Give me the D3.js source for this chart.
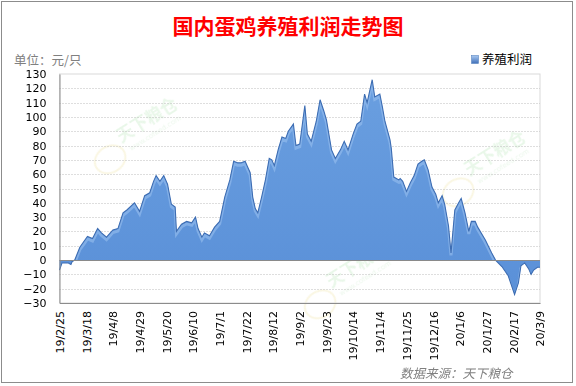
<!DOCTYPE html>
<html><head><meta charset="utf-8">
<script src="https://cdn.jsdelivr.net/npm/d3@7"></script>
<style>
html,body{margin:0;padding:0;background:#fff;}
svg{display:block;}
</style></head>
<body>
<svg id="chart" width="576" height="386"></svg>
<script>
// ---- data ----
const title = "国内蛋鸡养殖利润走势图";
const unitLabel = "单位：元/只";
const seriesName = "养殖利润";
const sourceLabel = "数据来源：天下粮仓";
const dates = [
 "2019-02-25","2019-02-27","2019-03-04","2019-03-06","2019-03-07","2019-03-09","2019-03-13","2019-03-17","2019-03-19","2019-03-23",
 "2019-03-27","2019-03-30","2019-04-03","2019-04-08","2019-04-12","2019-04-16","2019-04-19","2019-04-25","2019-04-29","2019-05-03",
 "2019-05-07","2019-05-10","2019-05-12","2019-05-15","2019-05-18","2019-05-21","2019-05-24","2019-05-27","2019-05-28","2019-06-01",
 "2019-06-05","2019-06-09","2019-06-12","2019-06-14","2019-06-17","2019-06-19","2019-06-23","2019-06-27","2019-07-01","2019-07-05",
 "2019-07-09","2019-07-12","2019-07-15","2019-07-18","2019-07-21","2019-07-25","2019-07-27","2019-07-29","2019-07-31","2019-08-03",
 "2019-08-06","2019-08-09","2019-08-11","2019-08-13","2019-08-16","2019-08-19","2019-08-22","2019-08-24","2019-08-28","2019-08-30",
 "2019-09-02","2019-09-06","2019-09-08","2019-09-11","2019-09-15","2019-09-18","2019-09-21","2019-09-23","2019-09-27","2019-09-30",
 "2019-10-04","2019-10-07","2019-10-10","2019-10-14","2019-10-17","2019-10-20","2019-10-23","2019-10-25","2019-10-27","2019-10-29",
 "2019-10-31","2019-11-04","2019-11-06","2019-11-08","2019-11-12","2019-11-13","2019-11-15","2019-11-19","2019-11-20","2019-11-22",
 "2019-11-25","2019-11-28","2019-12-01","2019-12-04","2019-12-07","2019-12-09","2019-12-12","2019-12-15","2019-12-18","2019-12-20",
 "2019-12-23","2019-12-25","2019-12-28","2019-12-30","2020-01-02","2020-01-05","2020-01-07","2020-01-10","2020-01-13","2020-01-15",
 "2020-01-18","2020-01-20","2020-01-26","2020-01-31","2020-02-03","2020-02-08","2020-02-13","2020-02-18","2020-02-21","2020-02-23",
 "2020-02-26","2020-02-29","2020-03-02","2020-03-04","2020-03-07","2020-03-09"
];
const profit = [
 -7,-2,-2,-3,-1,0,9,14,16.5,15,
 22,19,16,21,22,33,35,40,34,45,
 47,55,59,55,59,53,39,37,20,25,
 27,26,30,22,16,19,17,23,27,44,
 56,69,68,68,69,61,44,36,33,44,
 56,71,70,66,77,86,85,90,95,80,
 81,108,88,83,97,112,104,98,77,71,
 77,83,77,88,95,97,116,110,118,126,
 114,116,107,97,84,78,58,56,57,55,
 48,54,59,67,69,70,63,51,46,40,
 45,39,24,5,35,40,43,33,20,27,
 27,23,14,5,0,-4.5,-11,-24,-16,-4,
 -2,-6,-10,-7,-5,-5
];
const yTicks = [130,120,110,100,90,80,70,60,50,40,30,20,10,0,-10,-20,-30];
const xTickLabels = ["19/2/25","19/3/18","19/4/8","19/4/29","19/5/20","19/6/10","19/7/1","19/7/22","19/8/12","19/9/2","19/9/23","19/10/14","19/11/4","19/11/25","19/12/16","20/1/6","20/1/27","20/2/17","20/3/9"];

// ---- build ----
const parse = d3.timeParse("%Y-%m-%d");
const data = dates.map((d,i)=>({date:parse(d), value:profit[i]}));
const tickDates = xTickLabels.map(s=>{const p=s.split("/");return new Date(2000+ +p[0], +p[1]-1, +p[2]);});

const svg = d3.select("#chart");
const L=59.5, R=540, T=74, B=303;
const x = d3.scaleTime().domain([parse("2019-02-25"), parse("2020-03-09")]).range([L,R]);
const y = d3.scaleLinear().domain([-30,130]).range([B,T]);

// outer frame
svg.append("rect").attr("x",1.5).attr("y",1.5).attr("width",571).attr("height",381)
  .attr("fill","#fff").attr("stroke","#8c8c8c").attr("stroke-width",1);

const defs = svg.append("defs");
const grad = defs.append("linearGradient").attr("id","lg").attr("x1",0).attr("y1",0).attr("x2",0).attr("y2",1);
grad.append("stop").attr("offset","0%").attr("stop-color","#6a9fe0");
grad.append("stop").attr("offset","100%").attr("stop-color","#5a90d8");
const lg2 = defs.append("linearGradient").attr("id","lg2").attr("x1",0).attr("y1",0).attr("x2",0).attr("y2",1);
lg2.append("stop").attr("offset","0%").attr("stop-color","#a9c9f2");
lg2.append("stop").attr("offset","100%").attr("stop-color","#3f6fb8");
defs.append("filter").attr("id","blur").append("feGaussianBlur").attr("stdDeviation",1.2);
defs.append("clipPath").attr("id","clipArea").append("path")
  .attr("d", d3.area().x(d=>x(d.date)).y0(y(0)).y1(d=>y(d.value))(data));

// title
svg.append("text").attr("x",288).attr("y",34).attr("text-anchor","middle")
  .attr("font-family","'Noto Sans CJK SC'").attr("font-size",21).attr("font-weight","bold")
  .attr("fill","#ff0000").text(title);

// unit
svg.append("text").attr("x",14).attr("y",65)
  .attr("font-family","'Noto Sans CJK SC'").attr("font-size",12.5)
  .attr("fill","#808080").text(unitLabel);

// legend
svg.append("rect").attr("x",471.5).attr("y",55.5).attr("width",7).attr("height",8)
  .attr("fill","url(#lg2)").attr("stroke","#5a86c0").attr("stroke-width",0.6);
svg.append("text").attr("x",482).attr("y",64)
  .attr("font-family","'Noto Sans CJK SC'").attr("font-size",12.5)
  .attr("fill","#000").text(seriesName);

// watermarks
const wm = svg.append("g").attr("opacity",0.45);
[[150,125],[360,270],[498,158]].forEach(([cx,cy])=>{
  const g = wm.append("g").attr("transform",`translate(${cx},${cy}) rotate(-32)`);
  g.append("text").attr("text-anchor","middle").attr("font-family","'Noto Sans CJK SC'")
    .attr("font-size",17).attr("font-weight","bold").attr("fill","#cfeecf").text("天下粮仓");
  g.append("text").attr("y",12).attr("text-anchor","middle").attr("font-family","'DejaVu Sans'")
    .attr("font-size",7).attr("fill","#d6efd6").text("www.cofeed.com");
  g.append("ellipse").attr("cx",-52).attr("cy",8).attr("rx",16).attr("ry",13)
    .attr("fill","none").attr("stroke","#f4ecc0").attr("stroke-width",2);
});

// plot border
svg.append("rect").attr("x",L).attr("y",T).attr("width",R-L).attr("height",B-T)
  .attr("fill","none").attr("stroke","#d9d9d9").attr("stroke-width",1);

// gridlines
svg.append("g").selectAll("line").data(yTicks.filter(v=>v!==-30 && v!==130)).join("line")
  .attr("x1",L).attr("x2",R).attr("y1",d=>Math.round(y(d))+0.5).attr("y2",d=>Math.round(y(d))+0.5)
  .attr("stroke","#bdbdbd").attr("stroke-width",1).attr("stroke-dasharray","1,2");

// shadow under zero
svg.append("line").attr("x1",L).attr("x2",R).attr("y1",y(0)+2).attr("y2",y(0)+2)
  .attr("stroke","#909090").attr("stroke-width",2).attr("filter","url(#blur)").attr("opacity",0.7);

// area
const area = d3.area().x(d=>x(d.date)).y0(y(0)).y1(d=>y(d.value));
svg.append("path").datum(data).attr("d",area).attr("fill","url(#lg)");
// bevel highlight
const line = d3.line().x(d=>x(d.date)).y(d=>y(d.value));
svg.append("g").attr("clip-path","url(#clipArea)").append("path").datum(data)
  .attr("d",line).attr("fill","none").attr("stroke","#9cc2f0").attr("stroke-width",3)
  .attr("transform","translate(0,2.5)").attr("opacity",0.55);
svg.append("path").datum(data).attr("d",line).attr("fill","none")
  .attr("stroke","#3d6db3").attr("stroke-width",1.1);
// zero line
svg.append("line").attr("x1",L).attr("x2",R).attr("y1",Math.round(y(0))+0.5).attr("y2",Math.round(y(0))+0.5)
  .attr("stroke","#8a8a8a").attr("stroke-width",1);

// axes
const yAxis = d3.axisLeft(y).tickValues(yTicks).tickSize(0).tickPadding(13).tickFormat(d3.format("d"));
const gy = svg.append("g").attr("transform",`translate(${L},0)`).call(yAxis);
gy.select(".domain").attr("stroke","#8c8c8c");
gy.selectAll("text").attr("font-family","'DejaVu Sans'").attr("font-size",11).attr("fill","#000");

const xAxis = d3.axisBottom(x).tickValues(tickDates).tickSize(0).tickFormat((d,i)=>xTickLabels[i]);
const gx = svg.append("g").attr("transform",`translate(0,${B})`).call(xAxis);
gx.select(".domain").attr("stroke","#8c8c8c");
gx.selectAll("text").attr("font-family","'DejaVu Sans'").attr("font-size",11).attr("fill","#000")
  .attr("text-anchor","end").attr("transform","translate(0,8) rotate(-90)").attr("x",0).attr("y",0).attr("dy","0.35em");

// source (italic via skew)
svg.append("g").attr("transform","translate(400,378) skewX(-14)")
  .append("text").attr("x",0).attr("y",0)
  .attr("font-family","'Noto Sans CJK SC'").attr("font-size",12.5)
  .attr("fill","#808080").text(sourceLabel);
</script>
</body></html>
